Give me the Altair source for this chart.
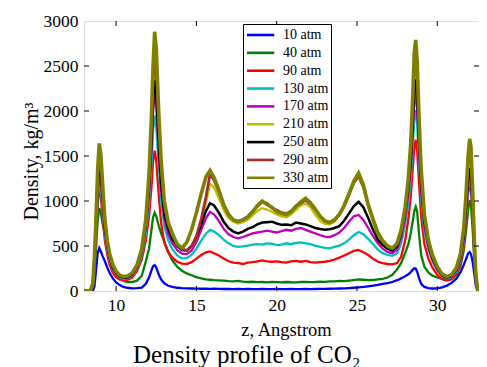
import altair as alt
import pandas as pd

# ---- data ----
Z = [8.0, 8.4, 8.55, 8.65, 8.75, 8.85, 8.95, 9.05, 9.15, 9.3,
     9.45, 9.6, 9.8, 10.0, 10.2, 10.45, 10.7, 11.0, 11.3, 11.6,
     11.85, 12.05, 12.2, 12.3, 12.4, 12.5, 12.65, 12.8, 13.0, 13.25,
     13.5, 13.8, 14.1, 14.4, 14.7, 15.0, 15.3, 15.6, 15.85, 16.1,
     16.4, 16.7, 17.0, 17.3, 17.6, 17.9, 18.2, 18.5, 18.8, 19.1,
     19.4, 19.7, 20.0, 20.3, 20.6, 20.9, 21.2, 21.5, 21.8, 22.1,
     22.4, 22.7, 23.0, 23.3, 23.6, 23.9, 24.2, 24.5, 24.8, 25.1,
     25.4, 25.7, 26.0, 26.3, 26.6, 26.9, 27.2, 27.5, 27.75, 28.0,
     28.2, 28.35, 28.47, 28.57, 28.66, 28.75, 28.87, 29.0, 29.2, 29.45,
     29.7, 30.0, 30.3, 30.6, 30.9, 31.2, 31.45, 31.65, 31.8, 31.92,
     32.02, 32.1, 32.2, 32.3, 32.4, 32.5, 32.6, 32.8]

p10 = [0, 0, 0, 50, 230, 420, 478, 440, 390, 330,
       260, 200, 140, 95, 68, 45, 36, 30, 32, 38,
       80, 150, 230, 275, 288, 260, 185, 130, 85, 58,
       45, 36, 32, 30, 28, 27, 25, 26, 24, 25,
       24, 22, 23, 21, 22, 20, 22, 21, 20, 22,
       21, 20, 22, 21, 20, 22, 21, 20, 22, 21,
       22, 24, 23, 25, 27, 28, 30, 33, 36, 40,
       45, 52, 60, 68, 78, 88, 100, 120, 140, 165,
       185, 210, 235, 252, 250, 215, 140, 80, 45, 32,
       28, 30, 40, 60, 90, 140, 210, 290, 360, 415,
       432, 410, 330, 200, 60, 5, 0, 0]

p40 = [0, 0, 40, 200, 480, 780, 920, 870, 760, 620,
       500, 390, 280, 200, 150, 115, 100, 100, 115, 170,
       330, 470, 680, 820, 870, 830, 730, 640, 550, 430,
       340, 270, 225, 195, 175, 155, 140, 130, 125, 120,
       118, 115, 110, 108, 112, 105, 100, 103, 98, 100,
       96, 100, 98, 95, 100, 97, 96, 100, 102, 98,
       100, 104, 102, 106, 108, 112, 110, 116, 122, 128,
       125, 120, 122, 128, 135, 150, 180, 240, 310, 420,
       520, 640, 770, 890, 935, 880, 620, 400, 270, 205,
       170, 150, 135, 128, 140, 175, 280, 450, 680, 900,
       1010, 960, 700, 360, 110, 12, 0, 0]

p90 = [0, 0, 55, 260, 570, 950, 1140, 1050, 830, 560,
       400, 290, 200, 155, 130, 122, 125, 150, 220, 350,
       560, 830, 1150, 1430, 1560, 1450, 1080, 760, 540, 430,
       370, 325, 305, 300, 320, 360, 400, 430, 440, 420,
       395, 360, 330, 315, 310, 300, 315, 320, 330, 340,
       330, 325, 330, 320, 315, 330, 335, 325, 335, 320,
       315, 320, 325, 335, 350, 370, 395, 420, 445, 455,
       430, 400, 360, 325, 310, 300, 295, 310, 380, 560,
       800, 1050, 1350, 1600, 1680, 1550, 1180, 820, 520, 360,
       260, 180, 130, 115, 130, 190, 300, 500, 800, 1080,
       1200, 1130, 820, 430, 135, 14, 0, 0]

p130 = [0, 0, 60, 280, 620, 1020, 1220, 1120, 900, 620,
        450, 335, 240, 185, 152, 138, 140, 170, 245, 390,
        640, 980, 1400, 1780, 1950, 1820, 1380, 1000, 720, 560,
        465, 395, 362, 365, 400, 470, 560, 640, 680, 660,
        620, 570, 530, 500, 490, 495, 505, 515, 520, 515,
        530, 525, 510, 515, 530, 520, 535, 540, 530, 520,
        505, 490, 480, 475, 490, 505, 530, 570, 620, 655,
        630, 580, 520, 460, 420, 400, 390, 420, 530, 740,
        980, 1260, 1600, 1900, 2010, 1850, 1420, 1020, 670, 460,
        330, 225, 165, 140, 152, 215, 340, 550, 860, 1130,
        1250, 1170, 850, 450, 140, 15, 0, 0]

p170 = [0, 0, 65, 300, 660, 1080, 1300, 1200, 960, 660,
        480, 355, 250, 195, 160, 145, 148, 180, 260, 420,
        700, 1080, 1550, 1980, 2200, 2060, 1550, 1120, 800, 630,
        530, 455, 415, 410, 450, 545, 680, 810, 880, 850,
        780, 690, 630, 600, 585, 600, 620, 640, 650, 660,
        670, 660, 650, 665, 680, 670, 690, 700, 680, 660,
        640, 620, 605, 600, 620, 650, 700, 770, 830, 845,
        790, 700, 610, 530, 470, 435, 420, 460, 590, 810,
        1080, 1380, 1750, 2100, 2200, 2020, 1550, 1100, 720, 490,
        350, 240, 170, 148, 162, 230, 360, 580, 900, 1180,
        1300, 1230, 900, 480, 150, 18, 0, 0]

p210 = [0, 0, 75, 340, 740, 1200, 1350, 1260, 1020, 690,
        500, 370, 265, 205, 170, 155, 160, 190, 275, 440,
        740, 1180, 1700, 2200, 2450, 2300, 1720, 1260, 900, 700,
        590, 510, 460, 450, 490, 590, 760, 980, 1190, 1150,
        1030, 900, 810, 770, 750, 765, 790, 840, 890, 920,
        905, 880, 850, 830, 820, 850, 900, 950, 970, 930,
        850, 780, 745, 740, 770, 840, 930, 1060, 1200, 1265,
        1140, 930, 770, 630, 545, 490, 462, 510, 650, 880,
        1170, 1520, 1950, 2350, 2450, 2280, 1720, 1230, 800, 535,
        380, 258, 180, 155, 170, 245, 395, 650, 1010, 1340,
        1460, 1380, 1000, 530, 175, 25, 0, 0]

p250 = [0, 0, 70, 320, 700, 1150, 1400, 1300, 1050, 700,
        500, 370, 260, 200, 165, 150, 150, 185, 270, 440,
        740, 1150, 1650, 2100, 2340, 2200, 1650, 1200, 860, 690,
        580, 500, 455, 450, 500, 600, 740, 890, 975, 950,
        870, 770, 700, 660, 640, 660, 690, 710, 740, 760,
        765, 770, 750, 735, 740, 730, 760, 750, 740, 720,
        700, 690, 680, 685, 700, 720, 780, 860, 940, 990,
        930, 810, 680, 570, 510, 470, 450, 500, 640, 880,
        1150, 1450, 1850, 2250, 2350, 2150, 1650, 1180, 780, 520,
        370, 250, 175, 150, 165, 240, 380, 620, 950, 1250,
        1365, 1290, 950, 500, 160, 20, 0, 0]

p290 = [0, 0, 80, 360, 780, 1280, 1520, 1420, 1140, 760,
        540, 395, 280, 215, 175, 158, 162, 196, 285, 460,
        780, 1260, 1850, 2350, 2650, 2500, 1880, 1380, 960, 740,
        620, 530, 470, 450, 495, 610, 800, 1050, 1300, 1230,
        1100, 950, 845, 790, 775, 795, 830, 885, 940, 990,
        975, 920, 900, 870, 860, 890, 945, 975, 1010, 965,
        900, 835, 775, 760, 785, 850, 940, 1070, 1200, 1280,
        1160, 950, 790, 640, 550, 495, 470, 520, 665, 900,
        1210, 1600, 2050, 2500, 2620, 2420, 1800, 1300, 830, 545,
        390, 265, 185, 158, 175, 255, 410, 680, 1060, 1430,
        1570, 1480, 1080, 570, 190, 28, 0, 0]

p330 = [0, 0, 90, 380, 820, 1350, 1640, 1520, 1220, 800,
        560, 410, 290, 220, 180, 160, 165, 200, 290, 470,
        800, 1300, 1950, 2500, 2880, 2700, 2000, 1450, 1000, 760,
        640, 520, 475, 540, 680, 870, 1080, 1270, 1340, 1260,
        1120, 960, 850, 790, 770, 790, 820, 880, 950, 1000,
        960, 930, 880, 860, 850, 880, 940, 990, 1030, 980,
        910, 830, 780, 760, 790, 850, 950, 1080, 1220, 1310,
        1180, 960, 800, 650, 560, 500, 475, 530, 680, 930,
        1250, 1650, 2150, 2650, 2790, 2550, 1900, 1350, 850, 560,
        400, 270, 190, 160, 180, 260, 420, 700, 1100, 1500,
        1690, 1600, 1150, 600, 200, 30, 0, 0]

labels = ["10 atm", "40 atm", "90 atm", "130 atm", "170 atm",
          "210 atm", "250 atm", "290 atm", "330 atm"]
values = [p10, p40, p90, p130, p170, p210, p250, p290, p330]
colors = ["#0000ff", "#008000", "#ff0000", "#00bfbf", "#bf00bf",
          "#bfbf00", "#000000", "#a52a2a", "#808000"]
widths = [2.3, 2.3, 2.3, 2.3, 2.3, 2.3, 2.5, 2.7, 3.6]

x_ticks = [10, 15, 20, 25, 30]
y_ticks = [0, 500, 1000, 1500, 2000, 2500, 3000]
y_inner = [500, 1000, 1500, 2000, 2500]

rows = []
for lab, vals in zip(labels, values):
    for z, v in zip(Z, vals):
        rows.append({"z": z, "rho": v, "series": lab})
df = pd.DataFrame(rows)

FONT = "Liberation Serif"
W, H = 395, 270

xscale = alt.Scale(domain=[8.0, 32.6], nice=False, zero=False)
yscale = alt.Scale(domain=[0, 3000], nice=False, zero=True)

xaxis = alt.Axis(values=x_ticks, format="d", ticks=False, tickSize=0, domain=False, grid=False,
                 labelFont=FONT, labelFontSize=17.5, labelColor="black",
                 labelPadding=5, labelFlush=False, labelOverlap=False,
                 title="z, Angstrom", titleFont=FONT, titleFontSize=18.5,
                 titleFontWeight="normal", titleColor="black",
                 titleBaseline="alphabetic", titleX=202, titleY=44)
yaxis = alt.Axis(values=y_ticks, format="d", ticks=False, tickSize=0, domain=False, grid=False,
                 labelFont=FONT, labelFontSize=17.5, labelColor="black",
                 labelPadding=6, labelFlush=False, labelOverlap=False,
                 title="Density, kg/m³", titleFont=FONT, titleFontSize=20,
                 titleFontWeight="normal", titleColor="black",
                 titleBaseline="alphabetic", titleX=-47, titleY=140)

color = alt.Color(
    "series:N",
    scale=alt.Scale(domain=labels, range=colors),
    legend=alt.Legend(title=None, orient="none", legendX=159, legendY=3,
                      fillColor="white", strokeColor="black", padding=2.5,
                      cornerRadius=0,
                      symbolType="M-1,0H2.9", symbolSize=196,
                      symbolStrokeWidth=2.6,
                      labelFont=FONT, labelFontSize=14, labelColor="black",
                      labelOffset=20.5, rowPadding=1.85),
)

layers = []
for lab, w in zip(labels, widths):
    layers.append(
        alt.Chart(df)
        .transform_filter(alt.datum.series == lab)
        .mark_line(strokeWidth=w, clip=True)
        .encode(x=alt.X("z:Q", scale=xscale, axis=xaxis),
                y=alt.Y("rho:Q", scale=yscale, axis=yaxis),
                color=color)
    )

xt = pd.DataFrame({"t": x_ticks})
yt = pd.DataFrame({"v": y_inner})
tick_bottom = alt.Chart(xt).mark_rule(color="black", strokeWidth=1).encode(
    x=alt.X("t:Q", scale=xscale, axis=xaxis), y=alt.value(H), y2=alt.value(H - 5))
tick_top = alt.Chart(xt).mark_rule(color="black", strokeWidth=1).encode(
    x=alt.X("t:Q", scale=xscale, axis=xaxis), y=alt.value(0), y2=alt.value(5))
tick_left = alt.Chart(yt).mark_rule(color="black", strokeWidth=1).encode(
    y=alt.Y("v:Q", scale=yscale, axis=yaxis), x=alt.value(0), x2=alt.value(5))
tick_right = alt.Chart(yt).mark_rule(color="black", strokeWidth=1).encode(
    y=alt.Y("v:Q", scale=yscale, axis=yaxis), x=alt.value(W), x2=alt.value(W - 5))

chart = (
    alt.layer(*layers, tick_bottom, tick_top, tick_left, tick_right)
    .properties(
        width=W, height=H,
        title=alt.TitleParams("Density profile of CO₂", orient="bottom",
                              anchor="start", frame="group", dx=49, offset=4,
                              font=FONT, fontSize=25, fontWeight="normal",
                              color="black"),
        padding={"left": 76, "top": 13, "right": 0, "bottom": 76},
        autosize=alt.AutoSizeParams(type="none"),
    )
    .configure_view(stroke="black", strokeWidth=1.2)
    .configure_axis(labelFont=FONT, titleFont=FONT)
    .configure_legend(labelFont=FONT)
    .configure(background="white")
)

chart.save("out.html", embed_options={"renderer": "svg", "actions": False})
